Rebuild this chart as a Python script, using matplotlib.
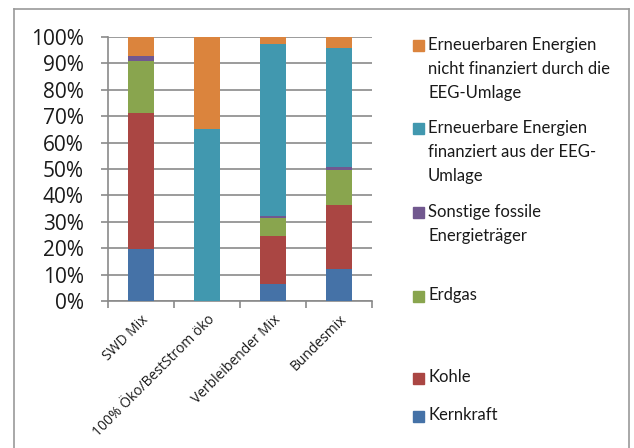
import matplotlib
matplotlib.use("Agg")
import matplotlib.pyplot as plt
from matplotlib.patches import Rectangle
from matplotlib.lines import Line2D
import numpy as np

# data (percent)
categories = ["SWD Mix", "100% Öko/BestStrom öko", "Verbleibender Mix", "Bundesmix"]
kernkraft = [19.6, 0.0, 6.4, 12.0]
kohle = [51.7, 0.0, 18.3, 24.2]
erdgas = [19.5, 0.0, 6.9, 13.4]
sonstige = [2.1, 0.0, 0.5, 1.0]
eeg = [0.0, 65.0, 65.2, 45.2]
nicht_eeg = [7.1, 35.0, 2.7, 4.2]

series = [
    ("Kernkraft", kernkraft, "#4572A7"),
    ("Kohle", kohle, "#AA4643"),
    ("Erdgas", erdgas, "#89A54E"),
    ("Sonstige fossile\nEnergieträger", sonstige, "#71588F"),
    ("Erneuerbare Energien\nfinanziert aus der EEG-\nUmlage", eeg, "#4198AF"),
    ("Erneuerbaren Energien\nnicht finanziert durch die\nEEG-Umlage", nicht_eeg, "#DB843D"),
]

W, H = 634, 448
fig = plt.figure(figsize=(W / 100, H / 100), dpi=100)
ax = fig.add_axes([108 / W, 1 - 301 / H, 264 / W, 264 / H])

x = np.arange(len(categories))
bottom = np.zeros(len(categories))
for name, vals, col in series:
    ax.bar(x, vals, bottom=bottom, width=0.4, color=col, zorder=3)
    bottom += np.array(vals)

ax.set_xlim(-0.5, len(categories) - 0.5)
ax.set_ylim(0, 100)
ax.set_yticks(range(0, 101, 10))
ax.set_yticklabels([f"{v}%" for v in range(0, 101, 10)], fontsize=15,
                   family="Open Sans", color="#1a1a1a")
ax.yaxis.grid(True, color="#8a8a8a", lw=1.2, zorder=0)
for s in ["top", "right"]:
    ax.spines[s].set_visible(False)
for s in ["left", "bottom"]:
    ax.spines[s].set_color("#8a8a8a")
    ax.spines[s].set_linewidth(1.2)
ax.tick_params(axis="y", length=5, color="#8a8a8a", width=1.2, pad=12.5)

# category ticks at boundaries, labels at centres
ax.set_xticks(np.arange(-0.5, len(categories), 1.0))
ax.set_xticklabels([])
ax.tick_params(axis="x", length=5, color="#8a8a8a", width=1.2)
ax.set_xticks(x, minor=True)
ax.set_xticklabels(categories, minor=True, rotation=45, ha="right",
                   rotation_mode="anchor", fontsize=10, family="Open Sans",
                   color="#1a1a1a")
ax.tick_params(axis="x", which="minor", length=0, pad=8)

# legend drawn by hand to keep Excel's spacing
leg_y = [416, 378, 296, 213, 129, 46]
for (name, vals, col), yy in zip(series, leg_y):
    fig.add_artist(Rectangle((413 / W, 1 - (yy + 5.5) / H), 11 / W, 11 / H,
                             transform=fig.transFigure, color=col))
    fig.text(428 / W, 1 - (yy - 9) / H, name, va="top", ha="left",
             fontsize=12, family="Lato", color="#1a1a1a", linespacing=1.62)

# outer frame
fc = "#9a9a9a"
fig.add_artist(Line2D([14 / W, 629 / W], [1 - 9 / H, 1 - 9 / H], color=fc, lw=1.2,
                      transform=fig.transFigure))
fig.add_artist(Line2D([14 / W, 14 / W], [1 - 9 / H, 0], color=fc, lw=1.2,
                      transform=fig.transFigure))
fig.add_artist(Line2D([629 / W, 629 / W], [1 - 9 / H, 0], color=fc, lw=1.2,
                      transform=fig.transFigure))

fig.savefig("out.png", dpi=100)
